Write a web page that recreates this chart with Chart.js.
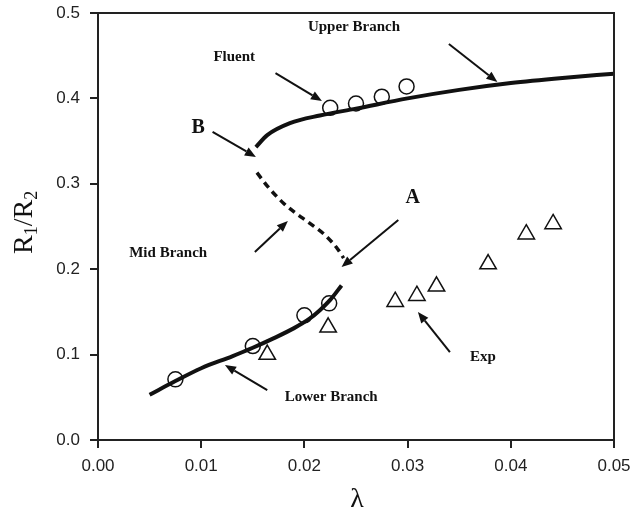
<!DOCTYPE html>
<html>
<head>
<meta charset="utf-8">
<title>R1/R2 vs lambda</title>
<script src="https://cdn.jsdelivr.net/npm/chart.js@4.4.1/dist/chart.umd.min.js"></script>
<style>
  html, body { margin: 0; padding: 0; background: #fff; }
  #wrap { width: 631px; height: 513px; position: relative; }
</style>
</head>
<body>
<div id="wrap"><canvas id="chart"></canvas></div>
<script>
// model branches
const upperLambda = [0.0153, 0.0164, 0.0186, 0.0215, 0.025, 0.030, 0.035, 0.040, 0.045, 0.050];
const upperRatio  = [0.343, 0.357, 0.371, 0.380, 0.388, 0.400, 0.410, 0.418, 0.424, 0.429];

const midLambda = [0.0154, 0.0165, 0.018, 0.019, 0.0205, 0.022, 0.0232, 0.0238];
const midRatio  = [0.313, 0.296, 0.277, 0.267, 0.254, 0.240, 0.224, 0.213];

const lowerLambda = [0.005, 0.0075, 0.010, 0.013, 0.015, 0.017, 0.019, 0.0205, 0.0215, 0.0225, 0.0236];
const lowerRatio  = [0.053, 0.069, 0.084, 0.098, 0.108, 0.119, 0.131, 0.142, 0.152, 0.164, 0.181];

// Fluent simulations
const fluentLambda = [0.0075, 0.0150, 0.0200, 0.0224, 0.0225, 0.0250, 0.0275, 0.0299];
const fluentRatio  = [0.071, 0.110, 0.146, 0.160, 0.389, 0.394, 0.402, 0.414];

// experiments
const expLambda = [0.0164, 0.0223, 0.0288, 0.0309, 0.0328, 0.0378, 0.0415, 0.0441];
const expRatio  = [0.100, 0.132, 0.162, 0.169, 0.180, 0.206, 0.241, 0.253];

const xTickValues = [0, 0.01, 0.02, 0.03, 0.04, 0.05];
const yTickValues = [0, 0.1, 0.2, 0.3, 0.4, 0.5];

function pairs(xs, ys) {
    return xs.map((x, i) => ({ x: x, y: ys[i] }));
}

// text labels and arrows, in data units
const notes = [
    { text: 'Upper Branch', x: 0.0248, y: 0.4836, font: 'bold 15px "Liberation Serif"' },
    { text: 'Fluent', x: 0.0132, y: 0.4485, font: 'bold 15px "Liberation Serif"' },
    { text: 'B', x: 0.0097, y: 0.3653, font: 'bold 20px "Liberation Serif"' },
    { text: 'Mid Branch', x: 0.0068, y: 0.2190, font: 'bold 15px "Liberation Serif"' },
    { text: 'A', x: 0.0305, y: 0.2834, font: 'bold 20px "Liberation Serif"' },
    { text: 'Exp', x: 0.0373, y: 0.0972, font: 'bold 15px "Liberation Serif"' },
    { text: 'Lower Branch', x: 0.0226, y: 0.0504, font: 'bold 15px "Liberation Serif"' }
];
const arrows = [
    [0.0340, 0.4637, 0.0387, 0.4192],
    [0.0172, 0.4297, 0.0217, 0.3970],
    [0.0111, 0.3607, 0.0153, 0.3314],
    [0.0152, 0.2201, 0.0184, 0.2564],
    [0.0291, 0.2576, 0.0236, 0.2026],
    [0.0341, 0.1030, 0.0310, 0.1499],
    [0.0164, 0.0585, 0.0123, 0.0878]
];

const notesPlugin = {
    id: 'notes',
    afterDraw(chart) {
        const ctx = chart.ctx;
        const xs = chart.scales.x, ys = chart.scales.y;
        const area = chart.chartArea;
        ctx.save();
        // frame on top and right
        ctx.strokeStyle = '#222';
        ctx.lineWidth = 2;
        ctx.beginPath();
        ctx.moveTo(area.left, area.top);
        ctx.lineTo(area.right, area.top);
        ctx.lineTo(area.right, area.bottom);
        ctx.stroke();

        ctx.fillStyle = '#111';
        ctx.textAlign = 'center';
        ctx.textBaseline = 'middle';
        notes.forEach(n => {
            ctx.font = n.font;
            ctx.fillText(n.text, xs.getPixelForValue(n.x), ys.getPixelForValue(n.y));
        });

        ctx.strokeStyle = '#111';
        ctx.lineWidth = 2;
        arrows.forEach(a => {
            const x1 = xs.getPixelForValue(a[0]), y1 = ys.getPixelForValue(a[1]);
            const x2 = xs.getPixelForValue(a[2]), y2 = ys.getPixelForValue(a[3]);
            const ang = Math.atan2(y2 - y1, x2 - x1);
            const len = 11, half = 4.5;
            const bx = x2 - len * Math.cos(ang), by = y2 - len * Math.sin(ang);
            ctx.beginPath();
            ctx.moveTo(x1, y1);
            ctx.lineTo(bx, by);
            ctx.stroke();
            ctx.beginPath();
            ctx.moveTo(x2, y2);
            ctx.lineTo(bx + half * Math.sin(ang), by - half * Math.cos(ang));
            ctx.lineTo(bx - half * Math.sin(ang), by + half * Math.cos(ang));
            ctx.closePath();
            ctx.fill();
        });

        // axis titles
        ctx.fillStyle = '#111';
        ctx.textAlign = 'center';
        ctx.textBaseline = 'alphabetic';
        ctx.font = '28px "Liberation Serif"';
        ctx.fillText('\u03bb', 357, 507);

        ctx.textAlign = 'left';
        ctx.translate(32, 254);
        ctx.rotate(-Math.PI / 2);
        let px = 0;
        const big = '28px "Liberation Serif"', small = '18px "Liberation Serif"';
        [['R', big, 0], ['1', small, 5], ['/R', big, 0], ['2', small, 5]].forEach(p => {
            ctx.font = p[1];
            ctx.fillText(p[0], px, p[2]);
            px += ctx.measureText(p[0]).width;
        });
        ctx.restore();
    }
};

const ctx = document.getElementById('chart').getContext('2d');
new Chart(ctx, {
    type: 'scatter',
    data: {
        datasets: [
            {
                label: 'Upper Branch',
                data: pairs(upperLambda, upperRatio),
                showLine: true,
                borderColor: '#111',
                borderWidth: 4,
                pointRadius: 0,
                cubicInterpolationMode: 'monotone'
            },
            {
                label: 'Mid Branch',
                data: pairs(midLambda, midRatio),
                showLine: true,
                borderColor: '#111',
                borderWidth: 3.5,
                borderDash: [7, 5],
                pointRadius: 0,
                cubicInterpolationMode: 'monotone'
            },
            {
                label: 'Lower Branch',
                data: pairs(lowerLambda, lowerRatio),
                showLine: true,
                borderColor: '#111',
                borderWidth: 4,
                pointRadius: 0,
                cubicInterpolationMode: 'monotone'
            },
            {
                label: 'Fluent',
                data: pairs(fluentLambda, fluentRatio),
                pointStyle: 'circle',
                pointRadius: 7.5,
                borderColor: '#111',
                borderWidth: 1.5,
                backgroundColor: 'rgba(0,0,0,0)'
            },
            {
                label: 'Exp',
                data: pairs(expLambda, expRatio),
                pointStyle: 'triangle',
                pointRadius: 9.5,
                borderColor: '#111',
                borderWidth: 1.5,
                backgroundColor: 'rgba(255,255,255,0)'
            }
        ]
    },
    options: {
        responsive: true,
        maintainAspectRatio: false,
        animation: false,
        layout: { padding: { top: 13, right: 17, left: 0, bottom: 0 } },
        plugins: {
            legend: { display: false },
            tooltip: { enabled: false }
        },
        scales: {
            x: {
                type: 'linear',
                min: 0,
                max: 0.05,
                afterFit(scale) { scale.height = 73; },
                afterBuildTicks(scale) { scale.ticks = xTickValues.map(v => ({ value: v })); },
                ticks: {
                    color: '#222',
                    font: { family: '"Liberation Sans"', size: 17, lineHeight: 2.12 },
                    padding: 0,
                    callback: v => v.toFixed(2)
                },
                grid: { drawOnChartArea: false, drawTicks: true, tickLength: 8, color: '#222', lineWidth: 2 },
                border: { color: '#222', width: 2 }
            },
            y: {
                type: 'linear',
                min: 0,
                max: 0.5,
                afterFit(scale) { scale.width = 98; },
                afterBuildTicks(scale) { scale.ticks = yTickValues.map(v => ({ value: v })); },
                ticks: {
                    color: '#222',
                    font: { family: '"Liberation Sans"', size: 17, lineHeight: 0.3 },
                    padding: 10,
                    callback: v => v.toFixed(1)
                },
                grid: { drawOnChartArea: false, drawTicks: true, tickLength: 8, color: '#222', lineWidth: 2 },
                border: { color: '#222', width: 2 }
            }
        }
    },
    plugins: [notesPlugin]
});
</script>
</body>
</html>
